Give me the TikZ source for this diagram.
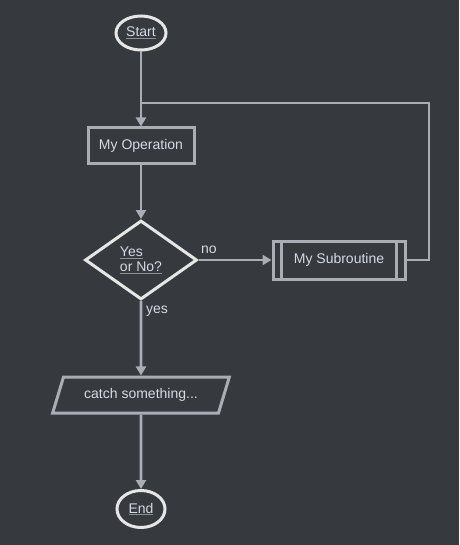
\documentclass[tikz,border=0pt]{standalone}
\usepackage{fontspec}
\setmainfont{Liberation Sans}
\usetikzlibrary{shapes.geometric,arrows.meta,calc}
\definecolor{bg}{HTML}{363A3F}
\definecolor{ln}{HTML}{A9AEB5}
\definecolor{wb}{HTML}{E6E6E6}
\definecolor{tx}{HTML}{D3DAE2}
\definecolor{ulc}{HTML}{8C9097}
\newcommand{\myul}[1]{\rlap{\color{ulc}\underline{\phantom{#1}}}#1}
\begin{document}
\begin{tikzpicture}[x=1pt,y=-1pt,
  every node/.style={font=\fontsize{14}{17}\selectfont, text=tx},
  term/.style={ellipse, draw=wb, line width=3pt, inner sep=0pt},
  opbox/.style={rectangle, draw=ln, line width=3pt, minimum width=106pt, minimum height=36pt, inner sep=0pt},
  dec/.style={diamond, draw=wb, line width=3pt, minimum width=112pt, minimum height=79pt, inner sep=0pt, aspect=1.4, align=left},
  subbox/.style={rectangle, draw=ln, line width=3pt, minimum width=132pt, minimum height=38pt, inner sep=0pt},
  iobox/.style={trapezium, trapezium left angle=58.6, trapezium right angle=121.4, trapezium stretches=true, draw=ln, line width=3pt, minimum width=177pt, minimum height=36pt, inner sep=0pt},
  conn/.style={draw=ln, line width=2.8pt, -{Triangle[length=9pt,width=10pt]}},
  plain/.style={draw=ln, line width=2.8pt},
  lbl/.style={text=tx, inner sep=0pt}]
\fill[bg] (0,0) rectangle (459,545);
\useasboundingbox (0,0) rectangle (459,545);

\node[term, minimum width=50pt, minimum height=34pt] (start) at (141,33) {\myul{Start}};
\node[opbox] (op) at (141,146) {My Operation};
\node[dec] (dec) at (141,260) {\myul{Yes}\\[-2pt]\myul{or No?}};
\node[subbox] (sub) at (339,260) {My Subroutine};
\draw[plain] ($(sub.north west)+(10,0)$) -- ($(sub.south west)+(10,0)$);
\draw[plain] ($(sub.north east)+(-10,0)$) -- ($(sub.south east)+(-10,0)$);
\node[iobox] (io) at (141,395) {catch something...};
\node[term, minimum width=48pt, minimum height=37pt] (end) at (141,509) {\myul{End}};

\coordinate (j) at (141,103);
\coordinate (rc) at (429,260);

\draw[conn] (start.south) -- (op.north);
\draw[conn] (op.south) -- (dec.north);
\draw[conn] (dec.east) -- (sub.west);
\draw[plain] (sub.east) -- (rc) |- (j);
\draw[conn] (dec.south) -- (io.north);
\draw[conn] (io.south) -- (end.north);

\node[lbl, anchor=west] (nolbl) at (201,250) {no};
\node[lbl, anchor=west] (yeslbl) at (146,311) {yes};
\end{tikzpicture}
\end{document}
